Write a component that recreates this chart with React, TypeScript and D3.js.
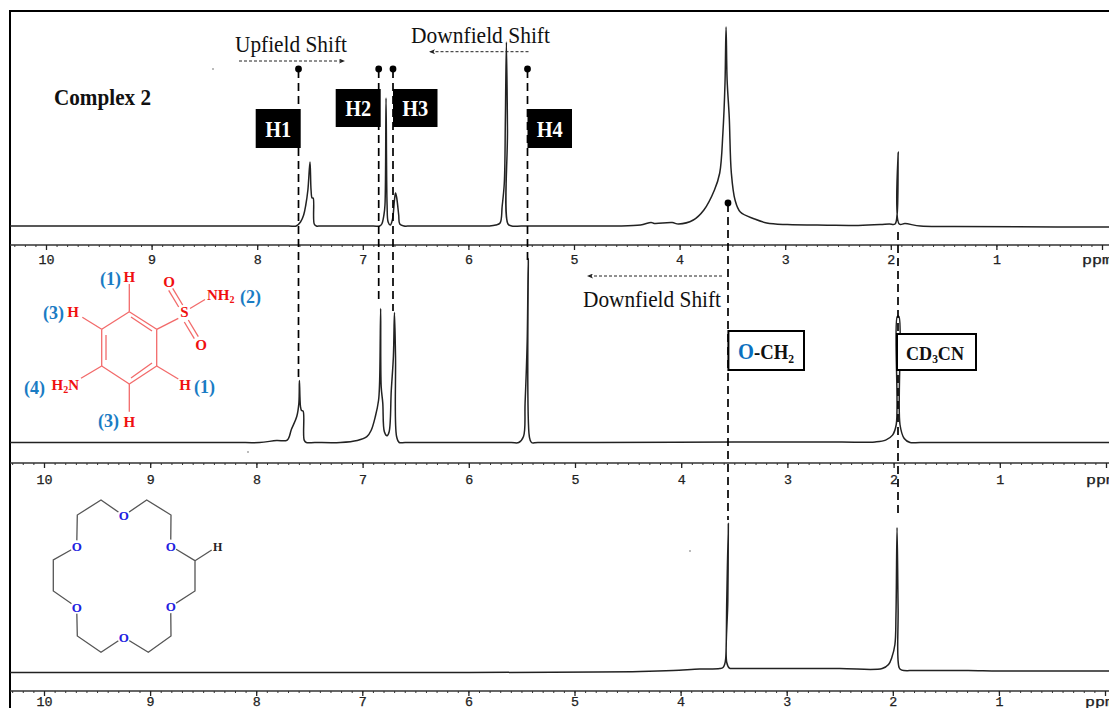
import { useEffect, useRef } from "react";
import * as d3 from "d3";

const WIDTH = 1109;
const HEIGHT = 708;

// [ppm, intensity]
const complexTrace: [number, number][] = [
  [10.34, 0], [9, 0], [8, 0], [7.7, 0], [7.63, 0], [7.59, 2], [7.56, 5.5], [7.54, 10.5], [7.52, 18], [7.5, 32], [7.49, 18], [7.48, 14],
  [7.47, 14], [7.46, 1], [7.44, 0], [7.4, 0], [7.2, 0], [6.9, 0], [6.84, 0], [6.82, 1], [6.8, 5.5], [6.79, 10.5], [6.78, 64], [6.77, 10.5],
  [6.76, 2], [6.74, 0.5], [6.72, 3], [6.7, 13], [6.69, 16.5], [6.68, 14.5], [6.66, 5.5], [6.65, 1], [6.61, 0], [6.55, 0], [6.2, 0],
  [5.85, 0], [5.8, 0], [5.74, 0.5], [5.7, 1.5], [5.68, 10], [5.66, 21.5], [5.65, 53], [5.64, 92], [5.63, 48], [5.625, 1],
  [5.59, 0], [5.5, 0], [5.2, 0], [4.85, 0], [4.6, 0], [4.37, 0.5], [4.27, 1.8], [4.24, 1.3], [4.07, 1.7], [4.01, 1], [3.87, 3], [3.77, 8],
  [3.67, 18], [3.62, 26.5], [3.59, 46.5], [3.57, 71.5], [3.56, 99.5], [3.55, 73], [3.53, 54.5], [3.51, 26.5],
  [3.475, 13], [3.425, 7], [3.29, 3.5], [3.175, 1.5], [2.98, 0.7], [2.6, 0.4], [2.31, 0.3], [2.1, 0.7], [2.015, 1], [1.96, 1], [1.94, 6],
  [1.93, 37], [1.92, 1], [1.865, 1.2], [1.72, 0], [1.4, -0.2], [0.8, -0.4], [-0.07, -0.5],
];

const ligandTrace: [number, number][] = [
  [10.32, 0], [9, 0], [8.2, 0], [7.97, 0], [7.81, 1], [7.71, 1.2], [7.67, 6.6], [7.62, 13], [7.6, 19.7], [7.595, 31], [7.585, 18],
  [7.575, 16], [7.56, 15.7], [7.55, 1.2], [7.53, 0], [7.45, 0], [7.21, 0], [7.05, 1], [6.96, 2.9], [6.92, 6], [6.88, 13], [6.85, 21], [6.84, 30],
  [6.83, 67], [6.825, 28], [6.81, 19.7], [6.795, 5.4], [6.77, 3.4], [6.75, 5.4], [6.73, 26], [6.71, 43], [6.7, 65],
  [6.69, 43], [6.68, 3], [6.655, 0], [6.6, 0], [6.2, 0], [5.6, 0], [5.53, 0], [5.485, 3], [5.47, 19.6], [5.45, 51], [5.44, 92], [5.43, 3],
  [5.41, 0], [5.35, 0], [4.8, 0], [3.5, 0.2], [2.5, 0.2], [2.175, 0.3], [2.075, 1.2], [2.01, 3.7], [1.975, 9], [1.965, 63], [1.95, 63], [1.94, 9], [1.9, 2],
  [1.845, 0], [1.75, 0], [1.2, 0], [-0.03, 0],
];

const crownTrace: [number, number][] = [
  [10.32, 0], [8, 0], [6, 0], [4.8, 0.2], [4.38, 0.5], [4.07, 1], [3.82, 1.7], [3.63, 2], [3.6, 2.5], [3.585, 4], [3.575, 7], [3.565, 36],
  [3.55, 74.5], [3.555, 36], [3.565, 5], [3.54, 2.2], [3.5, 2], [3.2, 2], [2.5, 2], [2.1, 2], [2.04, 4], [2.01, 7.4],
  [1.98, 14], [1.97, 29], [1.96, 72.5], [1.95, 32], [1.94, 2.4], [1.915, 1.2], [1.8, 1], [1.65, 1], [1.29, 1], [1.0, 0.7],
  [0.5, 0.7], [-0.04, 0.7],
];

const majorTicks = d3.range(0, 11);
const minorTicks = d3.range(-1, 104).map((d) => d / 10);

// one entry per spectrum: where ppm 10 and ppm 0 land, baseline and axis rows
const panels = [
  { trace: complexTrace, x10: 46, x0: 1102, baseline: 226, axisY: 245, labelY: 264 },
  { trace: ligandTrace, x10: 44, x0: 1106, baseline: 442.5, axisY: 463, labelY: 484 },
  { trace: crownTrace, x10: 44, x0: 1105, baseline: 672.5, axisY: 691, labelY: 706 },
];

const markerLines = [
  { x: 298.5, y1: 70, y2: 378 },
  { x: 378.7, y1: 70, y2: 300 },
  { x: 393, y1: 70, y2: 311 },
  { x: 527.5, y1: 70, y2: 262 },
  { x: 728, y1: 204, y2: 520 },
  { x: 898, y1: 232, y2: 518 },
];

const blackLabels = [
  { text: "H1", x: 255.7, y: 109, w: 45, h: 39 },
  { text: "H2", x: 335.7, y: 89, w: 45, h: 38 },
  { text: "H3", x: 393, y: 89, w: 44.5, h: 38 },
  { text: "H4", x: 527.5, y: 109, w: 44.5, h: 39 },
];

const shiftLabels = [
  { text: "Upfield Shift", x: 235, y: 52, w: 112 },
  { text: "Downfield Shift", x: 411, y: 42.5, w: 139 },
  { text: "Downfield Shift", x: 583, y: 306.5, w: 138 },
];

const shiftArrows = [
  { x1: 239, x2: 344, y: 61 },
  { x1: 528.5, x2: 430, y: 51.7 },
  { x1: 722, x2: 588, y: 276 },
];

const ringBonds = [
  [129.3, 311.7, 156.7, 329.3], [156.7, 329.3, 156.7, 366], [156.7, 366, 129.3, 384], [129.3, 384, 101.7, 366],
  [101.7, 366, 101.7, 329.3], [101.7, 329.3, 129.3, 311.7],
  [131, 317, 152, 331], [152, 363, 131, 378], [106, 335, 106, 360],
  [129.3, 311.7, 129.3, 284], [101.7, 329.3, 82.3, 317.3], [156.7, 366, 178.3, 379], [129.3, 384, 129.3, 411.7],
  [101.7, 366, 81, 378.3], [156.7, 329.3, 178.3, 318.3], [190, 308.5, 205, 299.5],
  [182.7, 305, 172.7, 288.3], [178.7, 307, 168.7, 290.3], [188.3, 320, 198.3, 336.7], [184.3, 322, 194.3, 338.7],
];

const redAtoms = [
  { text: "H", x: 129.3, y: 282 },
  { text: "H", x: 73, y: 317 },
  { text: "H", x: 185, y: 390 },
  { text: "H", x: 129.3, y: 427 },
  { text: "S", x: 184.3, y: 317 },
  { text: "O", x: 169, y: 286.5 },
  { text: "O", x: 201, y: 349.5 },
];

const blueNumbers = [
  { text: "(1)", x: 100, y: 285 },
  { text: "(3)", x: 43, y: 319 },
  { text: "(2)", x: 240, y: 303 },
  { text: "(1)", x: 194, y: 393 },
  { text: "(4)", x: 24, y: 394 },
  { text: "(3)", x: 98, y: 427 },
];

const crownRing: [number, number][] = [
  [123.7, 515.7], [146.7, 500], [171, 515], [170.7, 546], [195, 560.7], [195, 591], [170.7, 606.7], [171, 636],
  [148.3, 652.3], [123.7, 637.3], [101, 652.3], [77.3, 636], [76.7, 607.3], [53.3, 591], [53.3, 560], [76.7, 546.7],
  [77.3, 515], [101, 500],
];
const crownOxygens: [number, number][] = [
  [123.7, 515.7], [170.7, 546], [170.7, 606.7], [123.7, 637.3], [76.7, 607.3], [76.7, 546.7],
];

const specks: [number, number][] = [[213, 69], [248, 452], [690, 551]];

const serif = "'Liberation Serif', serif";
const mono = "'Liberation Mono', monospace";

const App = () => {
  const axesRef = useRef<SVGGElement>(null);

  useEffect(() => {
    const root = d3.select(axesRef.current);
    root.selectAll("*").remove();

    panels.forEach((p) => {
      const x = d3.scaleLinear().domain([10, 0]).range([p.x10, p.x0]);

      // axis rule
      root
        .append("line")
        .attr("x1", 10)
        .attr("x2", WIDTH)
        .attr("y1", p.axisY)
        .attr("y2", p.axisY)
        .attr("stroke", "#333")
        .attr("stroke-width", 1.5);

      const minor = root.append("g").attr("transform", `translate(0, ${p.axisY})`);
      minor.call(d3.axisBottom(x).tickValues(minorTicks).tickSize(2).tickFormat(() => ""));
      minor.select(".domain").remove();
      minor.selectAll("line").attr("stroke", "#333");

      const major = root.append("g").attr("transform", `translate(0, ${p.axisY})`);
      major.call(
        d3
          .axisBottom(x)
          .tickValues(majorTicks)
          .tickSize(5)
          .tickFormat((d) => (d === 0 ? "" : String(d)))
      );
      major.select(".domain").remove();
      major.selectAll("line").attr("stroke", "#222").attr("stroke-width", 1.3);
      major
        .selectAll("text")
        .attr("y", p.labelY - p.axisY)
        .attr("dy", 0)
        .attr("fill", "#222")
        .attr("stroke", "#222")
        .attr("stroke-width", 0.25)
        .attr("lengthAdjust", "spacingAndGlyphs")
        .attr("textLength", (d) => (d === 10 ? 16 : d === 0 ? 0.01 : 8))
        .style("font-family", mono)
        .style("font-size", "12px");

      root
        .append("text")
        .attr("x", x(0) - 20)
        .attr("y", p.labelY)
        .attr("fill", "#222")
        .attr("stroke", "#222")
        .attr("stroke-width", 0.25)
        .attr("lengthAdjust", "spacingAndGlyphs")
        .attr("textLength", 30)
        .style("font-family", mono)
        .style("font-size", "12px")
        .text("ppm");
    });
  }, []);

  return (
    <svg
      width={WIDTH}
      height={HEIGHT}
      viewBox={`0 0 ${WIDTH} ${HEIGHT}`}
      style={{ position: "absolute", left: 0, top: 0, background: "#fff" }}
    >
      <defs>
        <marker id="head" markerWidth="6" markerHeight="5" refX="5" refY="2.5" orient="auto" markerUnits="userSpaceOnUse">
          <path d="M0,0 L6,2.5 L0,5 L1.5,2.5 Z" fill="#222" />
        </marker>
      </defs>

      {/* frame */}
      <line x1={10} x2={WIDTH} y1={11} y2={11} stroke="#000" strokeWidth={2} />
      <line x1={10} x2={10} y1={10} y2={HEIGHT} stroke="#000" strokeWidth={2} />

      <g ref={axesRef} />

      {/* spectra */}
      {panels.map((p, i) => {
        const x = d3.scaleLinear().domain([10, 0]).range([p.x10, p.x0]);
        const y = d3.scaleLinear().domain([0, 100]).range([p.baseline, p.baseline - 200]);
        const line = d3
          .line<[number, number]>()
          .x((d) => x(d[0]))
          .y((d) => y(d[1]))
          .curve(d3.curveCatmullRom.alpha(0.5));
        return <path key={i} d={line(p.trace) || ""} fill="none" stroke="#222" strokeWidth={1.5} />;
      })}

      {/* peak guides */}
      {markerLines.map((m, i) => (
        <line key={i} x1={m.x} x2={m.x} y1={m.y1} y2={m.y2} stroke="#000" strokeWidth={1.7} strokeDasharray="8 5" />
      ))}
      {markerLines.slice(0, 5).map((m, i) => (
        <circle key={i} cx={m.x} cy={m.y1 - 1} r={3.4} fill="#000" />
      ))}

      {/* shift notes */}
      {shiftLabels.map((s, i) => (
        <text
          key={i}
          x={s.x}
          y={s.y}
          textLength={s.w}
          lengthAdjust="spacingAndGlyphs"
          fontFamily={serif}
          fontSize={24}
          fill="#111"
        >
          {s.text}
        </text>
      ))}
      {shiftArrows.map((a, i) => (
        <line
          key={i}
          x1={a.x1}
          x2={a.x2}
          y1={a.y}
          y2={a.y}
          stroke="#222"
          strokeWidth={1}
          strokeDasharray="3 2"
          markerEnd="url(#head)"
        />
      ))}

      <text
        x={54}
        y={105}
        textLength={97}
        lengthAdjust="spacingAndGlyphs"
        fontFamily={serif}
        fontWeight="bold"
        fontSize={23}
        fill="#111"
      >
        Complex 2
      </text>

      {/* H1..H4 tags */}
      {blackLabels.map((b) => (
        <g key={b.text}>
          <rect x={b.x} y={b.y} width={b.w} height={b.h} fill="#000" />
          <text
            x={b.x + b.w / 2 - 13}
            y={b.y + b.h / 2 + 8}
            textLength={26}
            lengthAdjust="spacingAndGlyphs"
            fontFamily={serif}
            fontWeight="bold"
            fontSize={24}
            fill="#fff"
          >
            {b.text}
          </text>
        </g>
      ))}

      {/* O-CH2 and CD3CN tags */}
      <rect x={728.4} y={331} width={75.6} height={39} fill="#fff" stroke="#000" strokeWidth={2} />
      <text x={738} y={359} textLength={56} lengthAdjust="spacingAndGlyphs" fontFamily={serif} fontWeight="bold" fontSize={21} fill="#111">
        <tspan fill="#0a70c0" fontSize={23}>O</tspan>
        <tspan>-CH</tspan>
        <tspan fontSize={13} dy={4}>2</tspan>
      </text>
      <rect x={897} y={334} width={79} height={36} fill="#fff" stroke="#000" strokeWidth={2} />
      <text x={906} y={360} textLength={58} lengthAdjust="spacingAndGlyphs" fontFamily={serif} fontWeight="bold" fontSize={19} fill="#111">
        <tspan>CD</tspan>
        <tspan fontSize={12} dy={3}>3</tspan>
        <tspan dy={-3}>CN</tspan>
      </text>

      {/* sulfonamide structure */}
      {ringBonds.map((b, i) => (
        <line key={i} x1={b[0]} y1={b[1]} x2={b[2]} y2={b[3]} stroke="#f26a6a" strokeWidth={1.3} />
      ))}
      {redAtoms.map((a, i) => (
        <text key={i} x={a.x} y={a.y} textAnchor="middle" fontFamily={serif} fontWeight="bold" fontSize={15} fill="#f01010">
          {a.text}
        </text>
      ))}
      <text x={207} y={300} fontFamily={serif} fontWeight="bold" fontSize={15} fill="#f01010">
        NH<tspan fontSize={10} dy={3}>2</tspan>
      </text>
      <text x={51.5} y={390} fontFamily={serif} fontWeight="bold" fontSize={15} fill="#f01010">
        H<tspan fontSize={10} dy={3}>2</tspan>
        <tspan dy={-3}>N</tspan>
      </text>
      {blueNumbers.map((n, i) => (
        <text key={i} x={n.x} y={n.y} fontFamily={serif} fontWeight="bold" fontSize={18} fill="#1a7cc4">
          {n.text}
        </text>
      ))}

      {/* crown ether structure */}
      <path d={`${d3.line()(crownRing)}Z`} fill="none" stroke="#555" strokeWidth={1.3} />
      <line x1={195} y1={560.7} x2={211.7} y2={550} stroke="#555" strokeWidth={1.3} />
      <text x={217.7} y={550.5} textAnchor="middle" fontFamily={serif} fontWeight="bold" fontSize={12} fill="#222">
        H
      </text>
      {crownOxygens.map((o, i) => (
        <g key={i}>
          <circle cx={o[0]} cy={o[1]} r={6.5} fill="#fff" />
          <text x={o[0]} y={o[1] + 4.5} textAnchor="middle" fontFamily={serif} fontWeight="bold" fontSize={13} fill="#2020e0">
            O
          </text>
        </g>
      ))}

      {specks.map((s, i) => (
        <circle key={i} cx={s[0]} cy={s[1]} r={0.8} fill="#666" />
      ))}
    </svg>
  );
};

export default App;
